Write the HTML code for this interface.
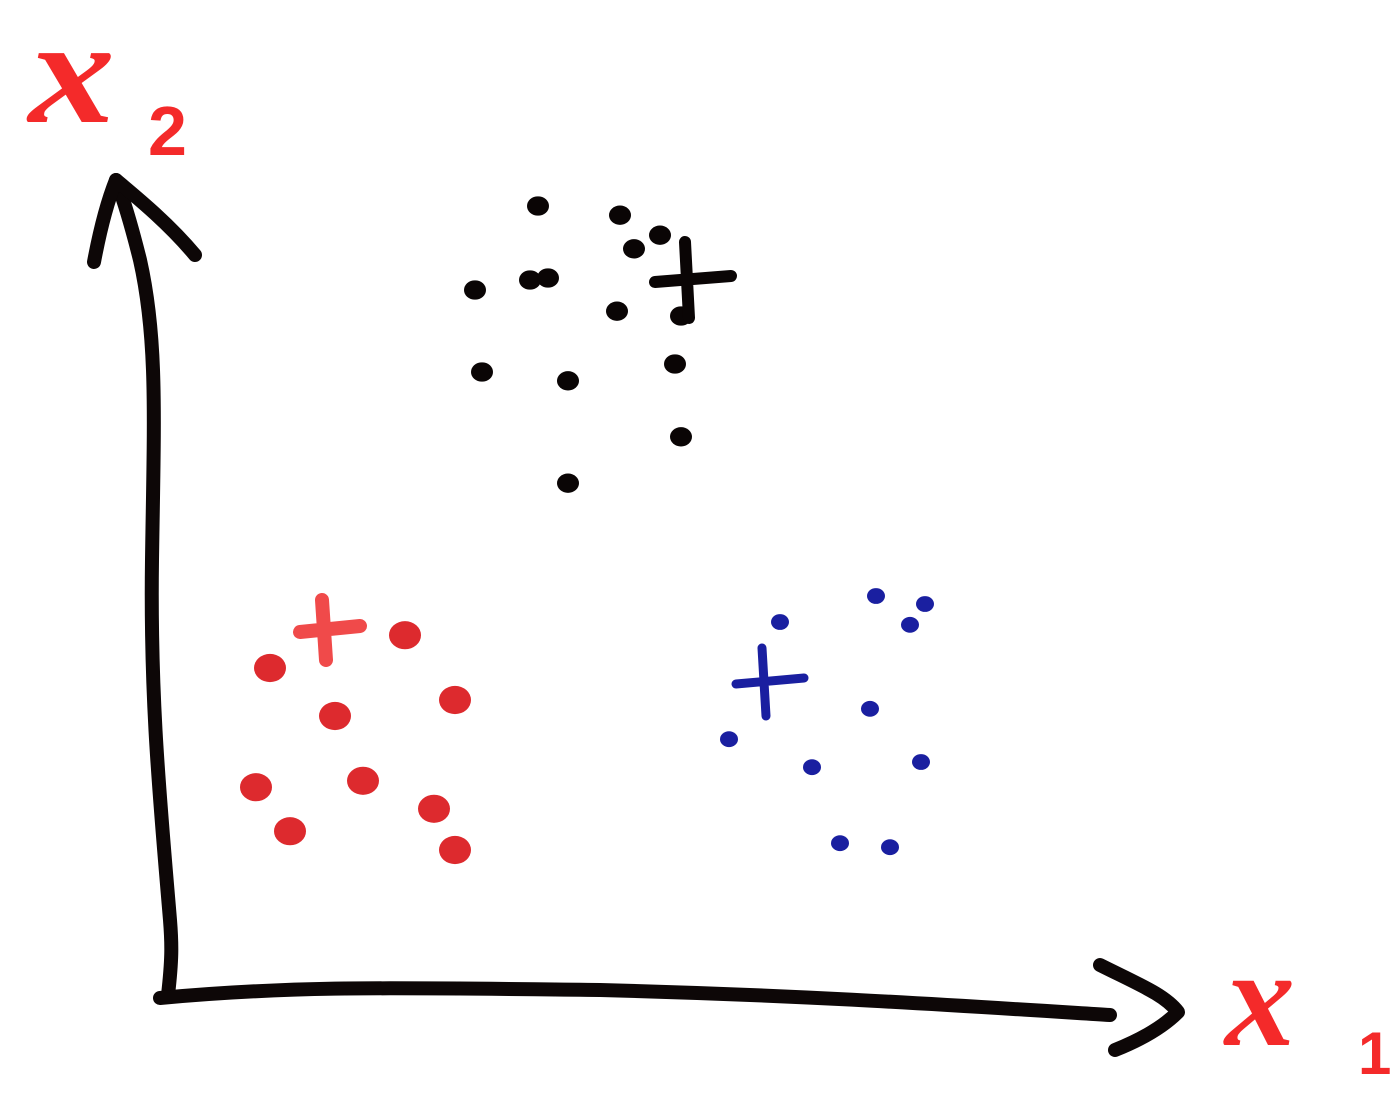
<!DOCTYPE html>
<html><head><meta charset="utf-8"><style>
html,body{margin:0;padding:0;background:#fff;}
svg{display:block}
</style></head><body>
<svg id="chart" width="1400" height="1095" viewBox="0 0 1400 1095" xmlns="http://www.w3.org/2000/svg">
<rect width="1400" height="1095" fill="#fff"/>
<g fill="none" stroke="#0d0707" stroke-width="14" stroke-linecap="round" stroke-linejoin="round">
<path d="M168,995 C172,960 172,945 170,920 C160,800 150,700 152,560 C154,420 158,340 140,260 C130,220 122,195 116,180"/>
<path d="M94,262 C100,230 108,200 116,180 C140,200 170,225 195,255"/>
</g>
<g fill="none" stroke="#0d0707" stroke-width="14" stroke-linecap="round" stroke-linejoin="round">
<path d="M160,998 C300,985 400,988 600,990 C800,995 950,1005 1110,1015"/>
<path d="M1100,965 C1140,985 1165,995 1178,1012 C1160,1030 1135,1042 1115,1050"/>
</g>
<g>
<text x="30" y="122" font-family="Liberation Serif, serif" font-size="150" font-weight="bold" fill="#f42a2a" font-style="italic" transform="scale(1.15,1) translate(-5,0)">x</text>
<text x="148" y="155" font-family="Liberation Sans, sans-serif" font-size="70" font-weight="bold" fill="#f42a2a">2</text>
</g>
<g>
<text x="1225" y="1045" font-family="Liberation Serif, serif" font-size="140" font-weight="bold" fill="#f42a2a" font-style="italic">x</text>
<text x="1358" y="1074" font-family="Liberation Sans, sans-serif" font-size="60" font-weight="bold" fill="#f42a2a">1</text>
</g>
<g id="marks"></g>
</svg>
<script>
const blackX=[37.3,45.5,49.5,46.9,36.5,38.3,31,45.2,51.6,31.7,40.3,51,51.6,40.3];
const blackY=[99.25,98.1,95.6,93.9,90,90.25,88.75,86.1,85.5,78.5,77.4,79.5,70.4,64.6];
const redX=[10.5,24,17,29,9.1,19.8,12.5,26.9,29];
const redY=[41.5,45.6,35.5,37.5,26.6,27.4,21.1,23.9,18.75];
const blueX=[71.1,76,74.5,61.5,70.5,56.4,64.7,75.6,67.5,72.5];
const blueY=[50.5,49.5,46.9,47.25,36.4,32.6,29.1,29.75,19.6,19.1];
const centroidBlack=[52.8,90];
const centroidRed=[16.5,46.25];
const centroidBlue=[60.5,39.75];

function sx(v){return 165+v*10;}
function sy(v){return 1000-v*8;}
const NS="http://www.w3.org/2000/svg";
const g=document.getElementById('marks');
function pts(xs,ys,color,r,name){
  const grp=document.createElementNS(NS,'g');
  
  
  xs.forEach((x,i)=>{
    const c=document.createElementNS(NS,'ellipse');
    c.setAttribute('cx',sx(x));c.setAttribute('cy',sy(ys[i]));
    c.setAttribute('rx',r);c.setAttribute('ry',r*0.88);
    c.setAttribute('fill',color);
    
    
    grp.appendChild(c);
  });
  g.appendChild(grp);
}
function cross(p,color,s,w,name){
  const x=sx(p[0]),y=sy(p[1]);
  const path=document.createElementNS(NS,'path');
  path.setAttribute('d',`M${x-s},${y+2} L${x+s},${y-4} M${x-8},${y-s} L${x-4},${y+s}`);
  path.setAttribute('stroke',color);path.setAttribute('stroke-width',w);
  path.setAttribute('stroke-linecap','round');path.setAttribute('fill','none');
  
  
  g.appendChild(path);
}
pts(blackX,blackY,'#0a0505',11,'black');
pts(redX,redY,'#dd2a2e',16,'red');
pts(blueX,blueY,'#1a1fa0',9,'blue');
cross(centroidBlack,'#0a0505',38,12,'black-centroid');
cross(centroidRed,'#f04a4a',30,14,'red-centroid');
cross(centroidBlue,'#1a1fa0',34,9,'blue-centroid');
</script>
</body></html>
